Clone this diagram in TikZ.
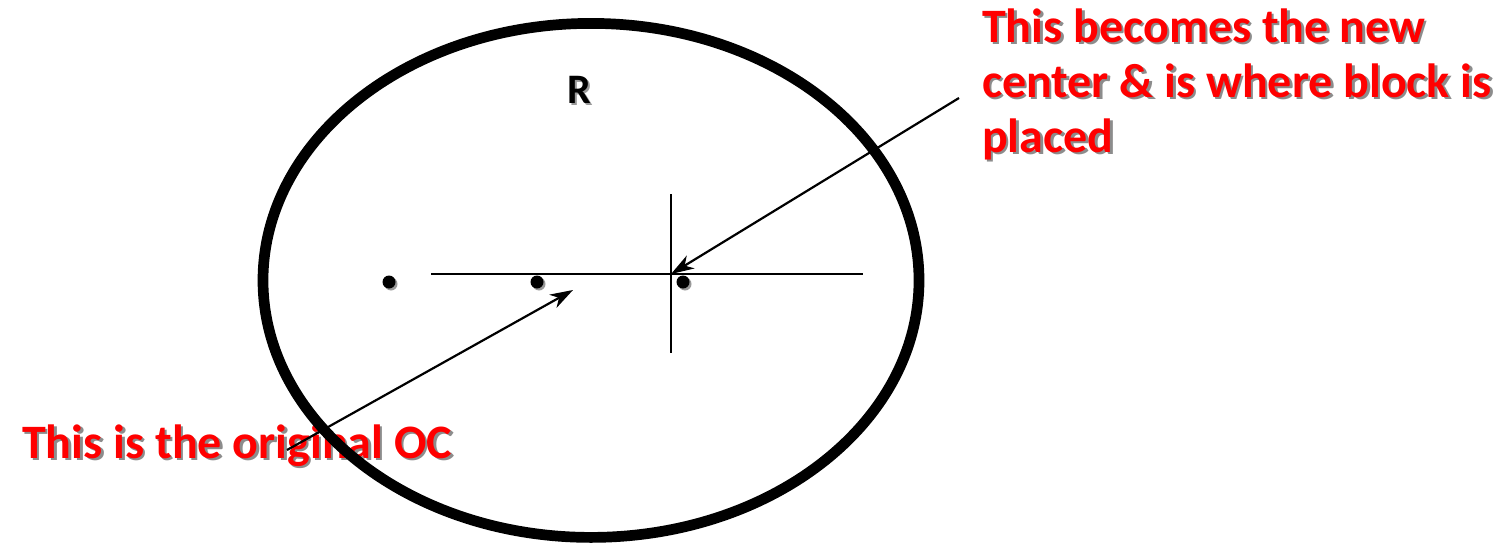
\documentclass[tikz,border=0pt]{standalone}
\usepackage{fontspec}
\setmainfont{Carlito}
\usetikzlibrary{arrows.meta,shadows}
\definecolor{labelred}{RGB}{255,0,0}
\begin{document}
\begin{tikzpicture}[x=1pt,y=-1pt,
  lbl/.style={font=\fontsize{48}{55}\selectfont\bfseries, text=labelred, inner sep=0pt, anchor=base west, align=left},
  lblshadow/.style={lbl, text=black!45},
  rlbl/.style={font=\fontsize{42}{48}\selectfont\bfseries, text=black, inner sep=0pt, anchor=base west},
  rshadow/.style={rlbl, text=black!40},
  ptr/.style={line width=2.2pt, -{Stealth[length=23pt,width=15pt,inset=7pt]}},
  ax/.style={line width=2.2pt},
  dot/.style={circle, fill=black, inner sep=0pt, minimum size=13pt,
    drop shadow={shadow xshift=2pt, shadow yshift=-2pt, fill=black!40, opacity=1}},
]
\useasboundingbox (0,0) rectangle (1498,543);
% labels (drawn first, lines go over them)
\node[lblshadow] (oshadow) at (24.5,460.5) {This is the original OC};
\node[lbl] (orig) at (22,458) {This is the original OC};
\node[lblshadow] (nshadow) at (984.5,154.5) {This becomes the new\\center \& is where block is\\placed};
\node[lbl] (newc) at (982,152) {This becomes the new\\center \& is where block is\\placed};
\node[rshadow] (rshadow) at (569.5,105.5) {R};
\node[rlbl] (r) at (567,103) {R};
% ellipse
\draw[line width=10.7pt] (591,280.4) ellipse [x radius=328, y radius=257];
% axes
\coordinate (hl) at (431,274);
\coordinate (hr) at (863,274);
\coordinate (vt) at (671,194);
\coordinate (vb) at (671,353);
\coordinate (c) at (671,274);
\draw[ax] (hl) -- (hr);
\draw[ax] (vt) -- (vb);
% dots
\node[dot] (d1) at (389,282) {};
\node[dot] (d2) at (537,282) {};
\node[dot] (d3) at (683,282) {};
% pointers
\coordinate (a1s) at (959,98);
\coordinate (a2s) at (287,450);
\coordinate (a2t) at (573,290);
\draw[ptr] (a1s) -- (c);
\draw[ptr] (a2s) -- (a2t);
\end{tikzpicture}
\end{document}
